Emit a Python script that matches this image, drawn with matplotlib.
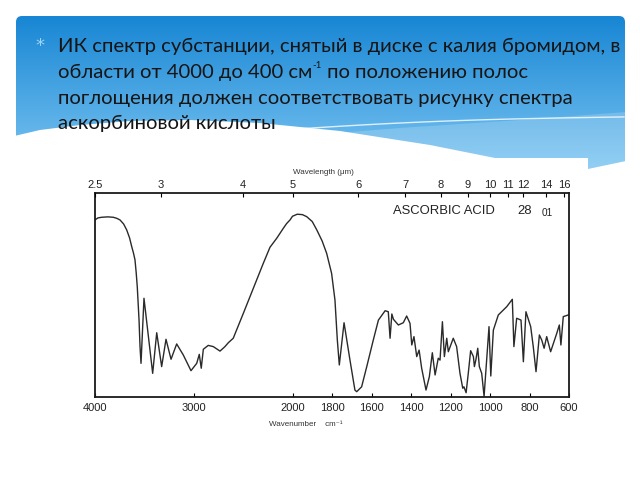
import numpy as np
import matplotlib
matplotlib.use("Agg")
import matplotlib.pyplot as plt
from matplotlib.patches import FancyBboxPatch, Polygon, Rectangle
from matplotlib.scale import FuncScale

# ---------------- data ----------------
wavenumber = [4000, 3970, 3932, 3870, 3815, 3780, 3747, 3710, 3679, 3650, 3628, 3610,
              3595, 3583, 3572, 3554, 3544, 3534, 3504,
              3416, 3375, 3325, 3281, 3230, 3173, 3106, 3028, 2970, 2944, 2924, 2903,
              2853, 2802, 2734, 2684, 2650, 2600, 2498, 2397, 2296, 2228, 2160, 2093,
              2060, 2025, 2000, 1976, 1950, 1928, 1900, 1877, 1850, 1827, 1802, 1785,
              1773, 1763, 1739, 1709, 1684,
              1675, 1650, 1624, 1591, 1565, 1531, 1515, 1506, 1497, 1489, 1464, 1439,
              1422, 1405, 1396, 1385, 1371, 1359, 1346, 1324, 1307, 1292, 1278, 1262,
              1253, 1241, 1231, 1219, 1211, 1186, 1169, 1152, 1138, 1132, 1121, 1110,
              1098, 1084, 1079, 1071, 1062, 1054, 1042, 1030, 1017, 1005, 996, 983,
              958, 915, 887, 879, 865, 843, 831, 818, 794, 781, 767, 750, 738, 726,
              713, 693, 662, 649, 641, 629, 604]
transmittance = [86.8, 87.8, 88.1, 88.3, 88.1, 87.6, 86.8, 84.8, 81.9, 78.0, 73.7, 70.5,
                 67.2, 61.0, 54.1, 37.7, 24.6, 16.5, 48.4,
                 11.6, 31.5, 14.9, 28.3, 18.5, 26.0, 20.6, 12.9, 16.5, 20.9, 14.1, 23.4,
                 25.3, 24.7, 22.5, 24.7, 26.6, 28.8, 41.0, 53.3, 65.5, 73.4, 77.8, 82.7,
                 85.0, 86.8, 88.6, 89.6, 89.4, 88.4, 86.0, 81.9, 76.5, 70.4, 60.6, 47.5,
                 27.9, 15.7, 36.4, 18.1, 3.4,
                 2.6, 5.0, 14.9, 27.9, 37.7, 42.3, 41.8, 28.8, 40.7, 38.1, 35.3, 36.4,
                 39.7, 36.1, 25.5, 29.6, 19.8, 23.0, 14.1, 3.4, 10.0, 21.7, 10.8, 19.0,
                 18.1, 36.9, 19.8, 28.8, 22.2, 28.8, 24.7, 11.6, 4.3, 5.0, 2.1, 11.6,
                 22.7, 19.8, 14.9, 18.5, 23.9, 14.9, 11.6, 0.3, 18.1, 34.5, 10.3, 32.8,
                 40.2, 44.3, 47.9, 24.7, 38.6, 37.7, 17.3, 41.8, 34.5, 24.7, 12.4, 30.4,
                 27.9, 23.9, 29.6, 22.2, 31.2, 35.3, 25.5, 39.4, 40.2]
wn_ticks = [4000, 3000, 2000, 1800, 1600, 1400, 1200, 1000, 800, 600]
wl_ticks = [2.5, 3, 4, 5, 6, 7, 8, 9, 10, 11, 12, 14, 16]
wl_labels = ["2.5", "3", "4", "5", "6", "7", "8", "9", "10", "11", "12", "14", "16"]

title_line1 = "ИК спектр субстанции, снятый в диске с калия бромидом, в"
title_line2a = "области от 4000 до 400 см"
title_line2sup = "-1"
title_line2b = " по положению полос"
title_line3 = "поглощения должен соответствовать рисунку спектра"
title_line4 = "аскорбиновой кислоты"
compound = "ASCORBIC ACID"

# ---------------- figure ----------------
fig = plt.figure(figsize=(6.4, 4.8), dpi=100)
fig.patch.set_facecolor("white")

bg = fig.add_axes([0, 0, 1, 1], zorder=0)
bg.set_xlim(0, 640)
bg.set_ylim(480, 0)
bg.axis("off")

# blue gradient box
box = FancyBboxPatch((16, 16), 609, 156, boxstyle="round,pad=0,rounding_size=6",
                     facecolor="none", edgecolor="none")
bg.add_patch(box)
top_c = np.array([24, 134, 212]) / 255
bot_c = np.array([125, 198, 242]) / 255
t = np.linspace(0, 1, 200)[:, None, None]
grad = top_c * (1 - t) + bot_c * t
im = bg.imshow(grad, extent=(16, 625, 172, 16), aspect="auto", origin="upper",
               interpolation="bilinear", zorder=1)
im.set_clip_path(box)

# light bands / waves
band = Polygon([(250, 140), (400, 128), (520, 120), (626, 112), (626, 162),
                (588, 170), (450, 170)], closed=True, facecolor="white",
               alpha=0.18, edgecolor="none", zorder=2)
bg.add_patch(band)
xs = np.linspace(200, 624, 60)
bg.plot(xs, 136 - (xs - 200) * 0.045 - 4 * np.sin((xs - 200) / 424 * np.pi),
        color="white", lw=1.0, alpha=0.8, zorder=2)
wave = Polygon([(10, 137), (40, 130), (80, 125), (130, 121), (190, 120), (260, 123),
                (340, 131), (430, 145), (500, 159), (500, 180), (10, 180)], closed=True,
               facecolor="white", edgecolor="none", zorder=3)
bg.add_patch(wave)
cut = Polygon([(588, 169), (626, 161), (640, 161), (640, 200), (588, 200)], closed=True,
              facecolor="white", edgecolor="none", zorder=3)
bg.add_patch(cut)
# white spectrum image area
bg.add_patch(Rectangle((75, 158), 513, 285, facecolor="white", edgecolor="none", zorder=4))

# bullet and text
bg.text(40, 51, "*", color="#9ad6f7", fontsize=13, ha="center", va="baseline",
        family=["DejaVu Sans"], zorder=5)
tkw = dict(fontsize=14.6, color="#151515", va="baseline",
           family=["Lato", "DejaVu Sans"], zorder=5)
bg.text(58, 52, title_line1, ha="left", **tkw)
t2a = bg.text(58, 78, title_line2a, ha="left", **tkw)
bg.text(58, 104, title_line3, ha="left", **tkw)
bg.text(58, 129, title_line4, ha="left", **tkw)

renderer = fig.canvas.get_renderer()
inv_t = bg.transData.inverted()
ext = t2a.get_window_extent(renderer)
x_end = inv_t.transform((ext.x1, ext.y0))[0]
sup = bg.text(x_end + 0.5, 68, title_line2sup, ha="left", va="baseline",
              fontsize=7, color="#151515", family=["Lato", "DejaVu Sans"], zorder=5)
ext2 = sup.get_window_extent(renderer)
x_end2 = inv_t.transform((ext2.x1, ext2.y0))[0]
bg.text(x_end2, 78, title_line2b, ha="left", **tkw)

# axis titles (small)
bg.text(323, 173, "Wavelength (μm)", fontsize=5.8, color="#333333", ha="center",
        va="center", family=["Liberation Sans", "DejaVu Sans"], zorder=5)
bg.text(306, 424, "Wavenumber    cm⁻¹", fontsize=5.8, color="#333333", ha="center",
        va="center", family=["Liberation Sans", "DejaVu Sans"], zorder=5)

# ---------------- spectrum ----------------
def fwd(w):
    w = np.asarray(w, dtype=float)
    return np.where(w >= 2000, w, 2 * w - 2000)

def inv(v):
    v = np.asarray(v, dtype=float)
    return np.where(v >= 2000, v, (v + 2000) / 2)

ax = fig.add_axes([95 / 640, 1 - 397 / 480, (569 - 95) / 640, (397 - 193) / 480], zorder=2)
ax.patch.set_alpha(0)
ax.set_xscale(FuncScale(ax, (fwd, inv)))
ax.set_xlim(4000, 600)
ax.set_ylim(0, 100)
ax.plot(wavenumber, transmittance, color="#2a2a2a", lw=1.0)
for s in ax.spines.values():
    s.set_linewidth(1.3)
    s.set_color("#1a1a1a")
ax.set_yticks([])
ax.set_xticks(wn_ticks)
ax.set_xticklabels([str(v) for v in wn_ticks], fontsize=8, color="#222222",
                   family="Liberation Sans")
ax.xaxis.set_minor_locator(matplotlib.ticker.NullLocator())
ax.tick_params(axis="x", direction="in", length=3, width=0.8, pad=4)

ax2 = ax.twiny()
ax2.set_xscale(FuncScale(ax2, (fwd, inv)))
ax2.set_xlim(4000, 600)
ax2.set_xticks([10000 / v for v in wl_ticks])
ax2.set_xticklabels(wl_labels, fontsize=8, color="#222222", family="Liberation Sans")
ax2.xaxis.set_minor_locator(matplotlib.ticker.NullLocator())
ax2.tick_params(axis="x", direction="in", length=3, width=0.8, pad=2)
for s in ax2.spines.values():
    s.set_visible(False)

ax.text(0.629, 0.912, compound, transform=ax.transAxes, fontsize=9.4, color="#222222",
        family="Liberation Sans", ha="left", va="center")
ax.text(0.907, 0.912, "28", transform=ax.transAxes, fontsize=9.4, color="#222222",
        family="Liberation Sans", ha="center", va="center")
ax.text(0.954, 0.9, "01", transform=ax.transAxes, fontsize=7.2, color="#222222",
        family="Liberation Sans", ha="center", va="center")

fig.savefig("out.png", dpi=100)
